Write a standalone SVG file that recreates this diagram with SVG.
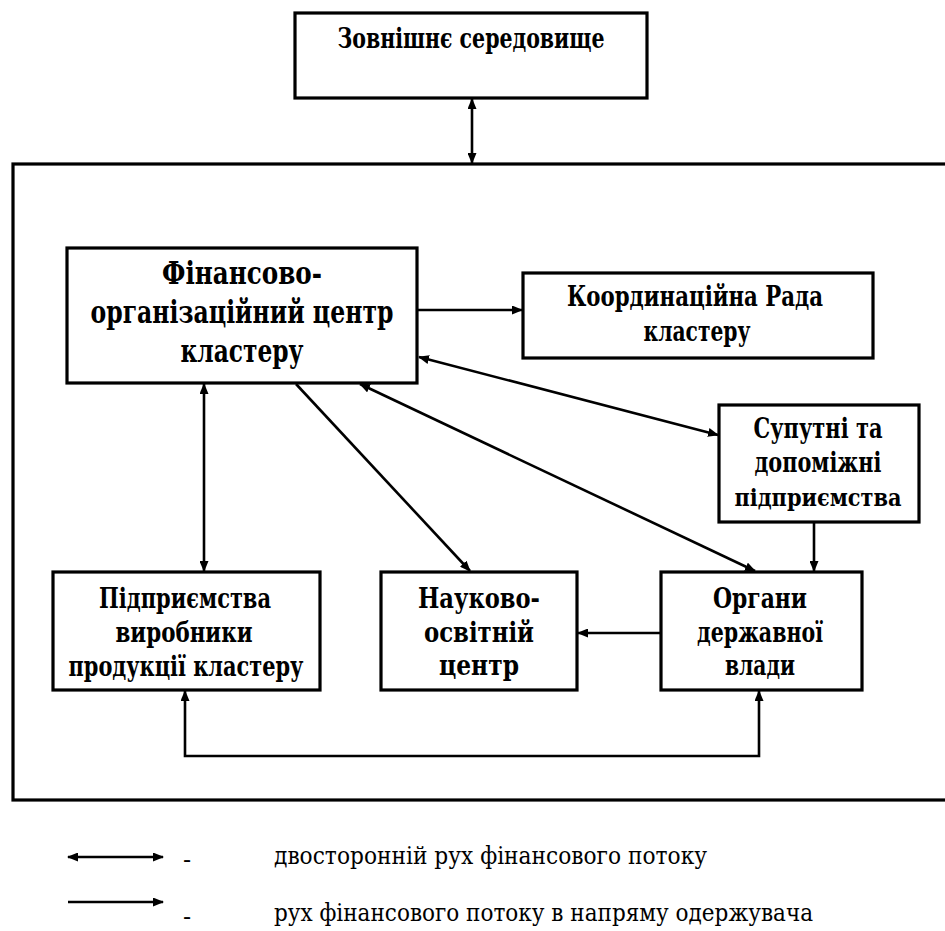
<svg xmlns="http://www.w3.org/2000/svg" width="945" height="931" viewBox="0 0 945 931">
<style>
.box{fill:#fff;stroke:#000;stroke-width:3.2}
.outer{fill:none;stroke:#000;stroke-width:3.2}
.c{fill:none;stroke:#000;stroke-width:2.6}
text{font-family:'DejaVu Serif','Liberation Serif',serif}
.t{font-weight:bold;font-size:28px;text-anchor:middle;fill:#000}
.tf{font-size:31px}
.ts{font-size:25px}
.lg{font-size:24px;fill:#000}
</style>
<defs>
<marker id="ah" markerUnits="userSpaceOnUse" markerWidth="11" markerHeight="9" refX="10" refY="4.5" orient="auto-start-reverse">
<path d="M0,0 L11,4.5 L0,9 z" fill="#000"/>
</marker>
</defs>
<rect class="outer" x="13" y="164" width="950" height="636"/>
<g id="node-external">
<rect class="box" x="295" y="13" width="352" height="85"/>
<text class="t" x="471" y="48" textLength="267" lengthAdjust="spacingAndGlyphs">Зовнішнє середовище</text>
</g>
<g id="node-fin">
<rect class="box" x="67" y="248" width="350" height="135"/>
<text class="t tf" x="242" y="284" textLength="160" lengthAdjust="spacingAndGlyphs">Фінансово-</text>
<text class="t tf" x="242" y="323" textLength="303" lengthAdjust="spacingAndGlyphs">організаційний центр</text>
<text class="t tf" x="242" y="362" textLength="123" lengthAdjust="spacingAndGlyphs">кластеру</text>
</g>
<g id="node-coord">
<rect class="box" x="523" y="273" width="350" height="85"/>
<text class="t" x="695" y="306" textLength="256" lengthAdjust="spacingAndGlyphs">Координаційна Рада</text>
<text class="t" x="697" y="341" textLength="107" lengthAdjust="spacingAndGlyphs">кластеру</text>
</g>
<g id="node-sup">
<rect class="box" x="719" y="405" width="200" height="117"/>
<text class="t" x="818" y="438" textLength="129" lengthAdjust="spacingAndGlyphs">Супутні та</text>
<text class="t" x="818" y="472" textLength="127" lengthAdjust="spacingAndGlyphs">допоміжні</text>
<text class="t ts" x="818" y="506" textLength="167" lengthAdjust="spacingAndGlyphs">підприємства</text>
</g>
<g id="node-pidpr">
<rect class="box" x="53" y="572" width="267" height="118"/>
<text class="t" x="185" y="608" textLength="172" lengthAdjust="spacingAndGlyphs">Підприємства</text>
<text class="t" x="184" y="642" textLength="137" lengthAdjust="spacingAndGlyphs">виробники</text>
<text class="t" x="186" y="676" textLength="235" lengthAdjust="spacingAndGlyphs">продукції кластеру</text>
</g>
<g id="node-nauk">
<rect class="box" x="381" y="572" width="196" height="118"/>
<text class="t" x="479" y="608" textLength="122" lengthAdjust="spacingAndGlyphs">Науково-</text>
<text class="t" x="479" y="642" textLength="110" lengthAdjust="spacingAndGlyphs">освітній</text>
<text class="t" x="479" y="675" textLength="80" lengthAdjust="spacingAndGlyphs">центр</text>
</g>
<g id="node-organy">
<rect class="box" x="661" y="572" width="201" height="118"/>
<text class="t" x="760" y="608" textLength="94" lengthAdjust="spacingAndGlyphs">Органи</text>
<text class="t" x="760" y="642" textLength="126" lengthAdjust="spacingAndGlyphs">державної</text>
<text class="t" x="760" y="675" textLength="70" lengthAdjust="spacingAndGlyphs">влади</text>
</g>
<g id="connectors">
<line class="c" x1="472" y1="99" x2="472" y2="163" marker-start="url(#ah)" marker-end="url(#ah)"/>
<line class="c" x1="418" y1="310" x2="522" y2="310" marker-end="url(#ah)"/>
<line class="c" x1="419" y1="357" x2="718" y2="435" marker-start="url(#ah)" marker-end="url(#ah)"/>
<line class="c" x1="296" y1="384" x2="470" y2="571" marker-end="url(#ah)"/>
<line class="c" x1="360" y1="384" x2="755" y2="571" marker-start="url(#ah)" marker-end="url(#ah)"/>
<line class="c" x1="204" y1="384" x2="204" y2="571" marker-start="url(#ah)" marker-end="url(#ah)"/>
<line class="c" x1="814" y1="523" x2="814" y2="571" marker-end="url(#ah)"/>
<line class="c" x1="660" y1="633" x2="578" y2="633" marker-end="url(#ah)"/>
<polyline class="c" points="185,691 185,756 759,756 759,691" marker-start="url(#ah)" marker-end="url(#ah)"/>
</g>
<g id="legend">
<line class="c" x1="68" y1="857" x2="163" y2="857" marker-start="url(#ah)" marker-end="url(#ah)"/>
<text class="lg" x="183" y="868">-</text>
<text class="lg" x="274" y="864" textLength="433" lengthAdjust="spacingAndGlyphs">двосторонній рух фінансового потоку</text>
<line class="c" x1="68" y1="902" x2="163" y2="902" marker-end="url(#ah)"/>
<text class="lg" x="183" y="925">-</text>
<text class="lg" x="274" y="921" textLength="539" lengthAdjust="spacingAndGlyphs">рух фінансового потоку в напряму одержувача</text>
</g>
</svg>
